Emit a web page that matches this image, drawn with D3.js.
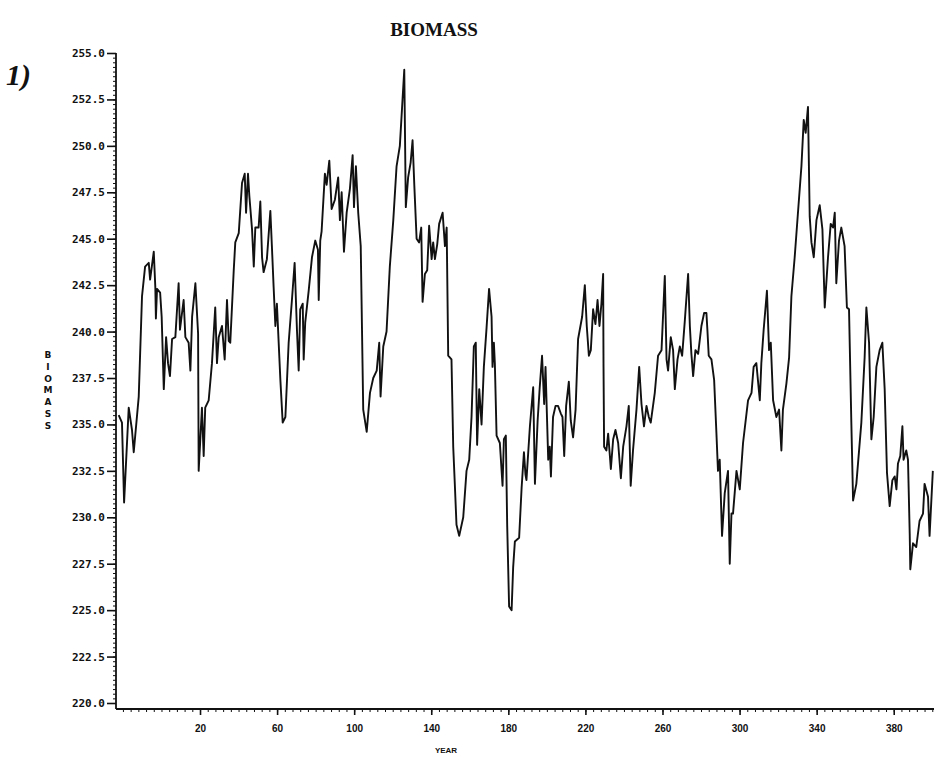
<!DOCTYPE html>
<html><head><meta charset="utf-8">
<script src="https://cdn.jsdelivr.net/npm/d3@7"></script>
<style>body{margin:0;background:#fff}svg{display:block}</style>
</head><body>
<svg id="chart" width="934" height="758"></svg>
<script>
// ---- data ----
const years = [
-22.2,-20.5,-19.4,-17.0,-15.3,-14.4,-11.8,-10.1,-8.5,-6.6,
-5.9,-4.0,-3.2,-2.9,-2.3,-0.7,0.1,1.2,2.4,3.4,
4.4,5.5,7.2,8.9,9.6,11.5,12.4,14.1,15.0,15.9,
17.6,19.0,19.3,21.0,21.9,22.7,24.5,26.2,27.9,28.8,
29.7,31.4,32.8,34.0,34.9,35.7,37.5,38.3,40.1,41.8,
43.2,43.9,44.9,45.6,47.0,47.9,48.7,50.4,51.3,52.2,
53.0,54.7,56.5,57.3,58.2,59.1,59.9,61.7,62.9,64.3,
66.0,67.7,69.1,70.3,71.2,72.0,73.3,73.8,74.6,76.4,
78.1,79.8,81.2,81.6,82.4,
83.1,84.8,85.7,87.1,88.3,90.0,91.7,92.6,93.5,94.7,
96.1,97.8,99.2,99.9,100.9,102.1,103.4,104.7,106.5,108.2,
109.9,111.7,113.0,113.7,115.1,116.8,118.5,120.3,122.0,123.7,
125.1,126.0,126.8,128.0,129.3,130.3,131.2,132.4,133.7,134.8,
135.5,136.7,137.9,138.9,140.2,141.0,141.9,143.1,144.1,145.9,
147.1,148.0,148.8,150.5,151.4,152.3,153.1,154.5,156.6,158.3,
159.7,160.9,162.1,163.1,163.8,164.9,166.1,167.3,168.7,170.0,
171.3,171.8,172.5,173.0,173.9,175.6,177.0,177.7,178.7,179.4,
180.4,181.7,182.5,183.4,185.6,186.9,188.1,188.9,
189.4,191.2,192.9,193.8,195.2,196.3,197.5,198.6,199.3,200.0,
200.7,201.5,202.1,203.2,204.5,205.8,207.2,208.1,209.0,210.0,
211.4,212.4,213.6,214.9,216.2,218.3,219.7,220.7,221.8,222.8,
224.0,225.2,226.3,227.3,228.3,229.2,229.4,229.7,230.9,231.8,
232.7,233.2,234.4,235.6,237.0,238.4,239.6,241.3,242.5,243.5,
244.7,246.5,247.9,249.1,250.4,251.7,252.9,253.9,256.0,257.7,
259.5,261.2,262.1,262.9,264.3,265.5,266.4,267.8,269.0,270.2,
271.6,273.3,274.2,275.0,275.9,277.1,278.5,280.2,281.6,282.8,
283.3,284.0,285.4,286.8,288.0,288.8,289.7,290.9,292.3,294.0,
294.9,295.8,
296.6,298.4,300.1,301.8,304.4,306.2,307.3,308.7,310.5,311.3,
312.5,314.2,315.3,316.2,317.4,319.1,320.5,321.7,322.5,324.3,
325.7,326.9,328.6,330.3,332.1,333.3,334.3,335.5,336.4,337.3,
338.5,339.9,341.6,343.0,344.2,345.9,347.3,348.5,349.4,350.2,
351.6,352.8,354.5,355.7,356.8,358.0,358.9,360.6,363.2,364.9,
365.8,367.2,368.4,369.6,371.0,372.7,374.1,375.3,376.5,377.9,
379.3,380.5,381.4,382.2,383.4,384.5,385.1,386.5,387.4,388.3,
388.6,390.0,391.7,393.4,395.2,396.0,397.8,398.6,400.3
];
const biomass = [
235.5,235.1,230.8,235.9,234.7,233.5,236.5,241.9,243.5,243.7,
242.8,244.3,242.4,240.7,242.3,242.1,240.8,236.9,239.7,238.3,
237.6,239.6,239.7,242.6,240.1,241.7,239.7,239.4,237.9,240.8,
242.6,239.9,232.5,235.9,233.3,235.9,236.3,238.3,241.3,238.3,
239.7,240.3,238.5,241.7,239.5,239.4,243.3,244.8,245.3,248.0,
248.5,246.4,248.5,247.3,245.5,243.5,245.6,245.6,247.0,244.0,
243.2,243.9,246.5,244.6,242.4,240.3,241.5,237.4,235.1,235.4,
239.4,241.7,243.7,240.1,237.9,241.2,241.5,238.5,240.5,242.2,
244.0,244.9,244.4,241.7,244.9,
245.4,248.5,247.9,249.2,246.6,247.1,248.3,246.0,247.5,244.3,
246.4,247.7,249.5,246.7,248.9,246.4,244.6,235.8,234.6,236.7,
237.5,237.9,239.4,236.5,239.2,240.0,243.5,246.0,248.9,250.0,
252.5,254.1,246.7,248.3,249.1,250.3,247.9,245.0,244.8,245.6,
241.6,243.1,243.3,245.7,243.9,244.8,243.9,244.7,245.8,246.4,
244.6,245.6,238.7,238.5,233.8,231.6,229.6,229.0,230.0,232.5,
233.1,235.4,239.2,239.4,233.9,236.9,235.0,238.1,240.2,242.3,
240.8,238.1,239.4,238.3,234.4,234.0,231.7,234.2,234.4,229.6,
225.2,225.0,227.3,228.7,228.9,231.6,233.5,232.3,
232.0,234.9,237.0,231.8,235.2,237.0,238.7,236.1,238.1,235.6,
233.1,233.8,232.2,235.4,236.0,236.0,235.6,235.4,233.3,236.0,
237.3,235.2,234.3,235.8,239.6,240.8,242.5,240.3,238.7,239.0,
241.2,240.4,241.7,240.3,241.5,243.1,238.1,233.8,233.6,234.5,
233.3,232.6,234.2,234.7,234.0,232.1,233.8,234.9,236.0,231.7,
233.6,235.8,238.1,236.1,234.9,236.0,235.4,235.1,236.7,238.7,
239.0,243.0,238.5,237.9,239.7,239.0,236.9,238.5,239.2,238.7,
240.6,243.1,240.3,238.8,237.6,239.0,238.8,240.3,241.0,241.0,
240.1,238.7,238.5,237.4,234.5,232.5,233.1,229.0,231.3,232.5,
227.5,230.2,
230.2,232.5,231.5,234.0,236.3,236.7,238.1,238.3,236.3,238.3,
240.1,242.2,239.0,239.4,236.3,235.4,235.8,233.6,235.8,237.2,
238.6,241.9,244.0,246.4,248.9,251.4,250.7,252.1,246.2,244.8,
244.0,246.0,246.8,245.5,241.3,244.0,245.8,245.6,246.4,242.6,
244.9,245.6,244.6,241.3,241.2,235.1,230.9,231.8,235.1,238.6,
241.3,239.4,234.2,235.4,238.1,239.0,239.4,236.9,232.4,230.6,
232.0,232.2,231.5,232.9,233.3,234.9,233.1,233.6,233.1,229.1,
227.2,228.6,228.4,229.8,230.2,231.8,231.1,229.0,232.5
];
const yTickValues = [220,222.5,225,227.5,230,232.5,235,237.5,240,242.5,245,247.5,250,252.5,255];
const xTickValues = [20,60,100,140,180,220,260,300,340,380];
const titleText = "BIOMASS";
const yAxisTitle = "BIOMASS";
const xAxisTitle = "YEAR";
const panelText = "1)";

// ---- drawing ----
const svg = d3.select("#chart");
svg.append("rect").attr("width",934).attr("height",758).attr("fill","#fff");

const x = d3.scaleLinear().domain([-23.6, 400.9]).range([116, 934]);
const y = d3.scaleLinear().domain([220, 255]).range([703, 53]);
const axisY = 709;

// title
svg.append("text").attr("x",434).attr("y",36).attr("text-anchor","middle")
  .style("font-family","'Liberation Serif','DejaVu Serif',serif").style("font-weight","bold")
  .style("font-size","19px").attr("fill","#111").text(titleText);

// panel label
svg.append("text").attr("x",6).attr("y",85)
  .style("font-family","'Liberation Serif','DejaVu Serif',serif").style("font-weight","bold")
  .style("font-style","italic").style("font-size","30px").attr("fill","#111").text(panelText);

// y axis: minor ticks
const yMinor = d3.range(0,141).map(i => 220 + i*0.25);
svg.append("g").attr("transform","translate(116,0)")
  .call(d3.axisLeft(y).tickValues(yMinor).tickSize(3).tickFormat(""))
  .call(g => g.select(".domain").remove())
  .call(g => g.selectAll("line").attr("stroke","#111").attr("stroke-width",1));
// y axis: major
const gy = svg.append("g").attr("transform","translate(116,0)")
  .call(d3.axisLeft(y).tickValues(yTickValues).tickFormat(d3.format(".1f")).tickSize(9).tickPadding(2))
  .call(g => g.select(".domain").remove());
gy.selectAll("line").attr("stroke","#111").attr("stroke-width",1.6);
gy.selectAll("text").style("font-family","'DejaVu Sans Mono',monospace").style("font-weight","bold")
  .style("font-size","11px").attr("fill","#111");
svg.append("line").attr("x1",116).attr("x2",116).attr("y1",y(255)).attr("y2",axisY)
  .attr("stroke","#111").attr("stroke-width",1.8);

// x axis: minor ticks
const xMinor = d3.range(0,106).map(i => -20 + i*4);
svg.append("g").attr("transform",`translate(0,${axisY})`)
  .call(d3.axisBottom(x).tickValues(xMinor).tickSize(3).tickFormat(""))
  .call(g => g.select(".domain").remove())
  .call(g => g.selectAll("line").attr("stroke","#111").attr("stroke-width",1));
const gx = svg.append("g").attr("transform",`translate(0,${axisY})`)
  .call(d3.axisBottom(x).tickValues(xTickValues).tickSize(6).tickPadding(10))
  .call(g => g.select(".domain").remove());
gx.selectAll("line").attr("stroke","#111").attr("stroke-width",1.6);
gx.selectAll("text").style("font-family","'Liberation Sans','DejaVu Sans',sans-serif").style("font-weight","bold")
  .style("font-size","10px").attr("fill","#111");
svg.append("line").attr("x1",116).attr("x2",934).attr("y1",axisY).attr("y2",axisY)
  .attr("stroke","#111").attr("stroke-width",2.2);

// axis titles
svg.append("text").attr("x",446).attr("y",753).attr("text-anchor","middle")
  .style("font-family","'Liberation Sans','DejaVu Sans',sans-serif").style("font-weight","bold")
  .style("font-size","8px").attr("fill","#111").text(xAxisTitle);
const yt = svg.append("text").attr("text-anchor","middle")
  .style("font-family","'DejaVu Sans',sans-serif").style("font-weight","bold")
  .style("font-size","9px").attr("fill","#111");
yAxisTitle.split("").forEach((ch,i) => {
  yt.append("tspan").attr("x",48).attr("y",358 + i*11.8).text(ch);
});

// series line
const pts = d3.zip(years, biomass);
svg.append("path").datum(pts)
  .attr("fill","none").attr("stroke","#111").attr("stroke-width",1.9)
  .attr("stroke-linejoin","round")
  .attr("d", d3.line().x(d => x(d[0])).y(d => y(d[1])));
</script>
</body></html>
